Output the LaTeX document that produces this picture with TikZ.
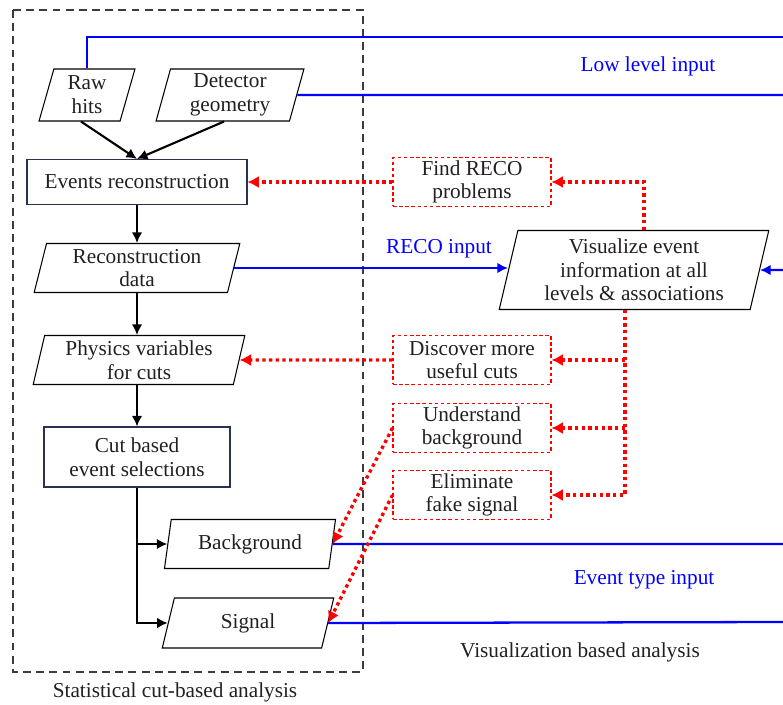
\documentclass[tikz,border=0pt]{standalone}
\usepackage{fontspec}
\setmainfont{Liberation Serif}
\usetikzlibrary{shapes.geometric,arrows.meta}

\definecolor{txt}{RGB}{35,31,32}
\definecolor{navy}{RGB}{38,50,80}
\definecolor{frame}{RGB}{60,60,60}

\begin{document}
\begin{tikzpicture}[x = 0.02cm, y = -0.02cm,
    every node/.style = {font = \fontsize{12.1}{13.5}\selectfont, text = txt, align = center, inner sep = 0pt},
    data/.style = {trapezium, trapezium left angle = 77, trapezium right angle = 103,
                   trapezium stretches = true, draw = black, line width = 0.6pt},
    proc/.style = {rectangle, draw = navy, line width = 0.6pt},
    idea/.style = {rectangle, draw = red, dash pattern = on 2pt off 1.5pt, line width = 0.6pt,
                   minimum width = 3.16cm, minimum height = 0.98cm},
    flow/.style = {-{Latex[length = 6pt, width = 6pt]}, line width = 1.2pt},
    input/.style = {blue, line width = 1.3pt},
    fb/.style = {red, line width = 1.9pt, dash pattern = on 1.9pt off 1.9pt,
                 -{Latex[length = 6.5pt, width = 7pt]}},
    lbl/.style = {text = blue}]
  \useasboundingbox (0, 0) rectangle (783, 705);

  % statistical part
  \draw [frame, line width = 0.7pt, dash pattern = on 4.5pt off 3pt] (13, 10) rectangle (363, 672);
  \node (stat) at (175, 692) {Statistical cut-based analysis};

  \node [data, minimum width = 1.92cm, minimum height = 1.04cm] (raw) at (87, 95) {Raw\\hits};
  \node [data, minimum width = 2.96cm, minimum height = 1.04cm] (det) at (230, 95) {Detector\\geometry};
  \node [proc, minimum width = 4.4cm, minimum height = 0.9cm] (evt) at (137, 182) {Events reconstruction};
  \node [data, minimum width = 4.12cm, minimum height = 0.98cm] (rec) at (137, 268) {Reconstruction\\data};
  \node [data, minimum width = 4.26cm, minimum height = 0.98cm] (phys) at (139, 360) {Physics variables\\for cuts};
  \node [proc, minimum width = 3.72cm, minimum height = 1.2cm] (cut) at (137, 457) {Cut based\\event selections};
  \node [data, minimum width = 3.44cm, minimum height = 0.98cm] (bg) at (250, 544) {Background};
  \node [data, minimum width = 3.44cm, minimum height = 1cm] (sig) at (248, 623) {Signal};

  % visualization part
  \node [data, minimum width = 5.4cm, minimum height = 1.58cm] (vis) at (634, 270)
        {Visualize event\\information at all\\levels \& associations};
  \node [idea] (fr) at (472, 182) {Find RECO\\problems};
  \node [idea] (dc) at (472, 360) {Discover more\\useful cuts};
  \node [idea] (ub) at (472, 428) {Understand\\background};
  \node [idea] (el) at (472, 495) {Eliminate\\fake signal};
  \node (visa) at (580, 652) {Visualization based analysis};

  \node [lbl] (low) at (648, 66) {Low level input};
  \node [lbl] (recin) at (439, 249) {RECO input};
  \node [lbl] (evin) at (644, 580) {Event type input};

  \coordinate (rawend) at (783, 37);
  \coordinate (detend) at (783, 95);
  \coordinate (visin) at (783, 270);
  \coordinate (bgend) at (783, 544);
  \coordinate (sigend) at (783, 622);
  \coordinate (vistop) at ([xshift = 0.2cm]vis.north);
  \coordinate (visbot) at ([xshift = -0.18cm]vis.south);

  % black flow
  \draw [flow] ([xshift = -0.12cm]raw.south) -- (evt.north);
  \draw [flow] ([xshift = -0.12cm]det.south) -- (evt.north);
  \draw [flow] (evt.south) -- (evt.south |- rec.north);
  \draw [flow] (evt.south |- rec.south) -- (evt.south |- phys.north);
  \draw [flow] (evt.south |- phys.south) -- (cut.north);
  \draw [flow] (cut.south) |- (bg.west);
  \draw [flow] (cut.south) |- (sig.west);

  % blue inputs
  \draw [input] (raw.north) |- (rawend);
  \draw [input] (det.east) -- (detend);
  \draw [input, -{Latex[length = 6pt, width = 6pt]}] (rec.east) -- (rec.east -| vis.west);
  \draw [input, -{Latex[length = 6pt, width = 6pt]}] (visin) -- (vis.east);
  \draw [input] (bg.east) -- (bgend);
  \draw [input] (sig.east) -- (sigend);

  % red feedback
  \draw [fb] (vistop) |- (fr.east);
  \draw [fb] (fr.west) -- (evt.east);
  \draw [fb] (visbot) |- (el.east);
  \draw [fb] (visbot |- dc.east) -- (dc.east);
  \draw [fb] (visbot |- ub.east) -- (ub.east);
  \draw [fb] (dc.west) -- (phys.east);
  \draw [fb] (ub.west) -- (bg.east);
  \draw [fb] (el.west) -- (sig.east);
\end{tikzpicture}
\end{document}
